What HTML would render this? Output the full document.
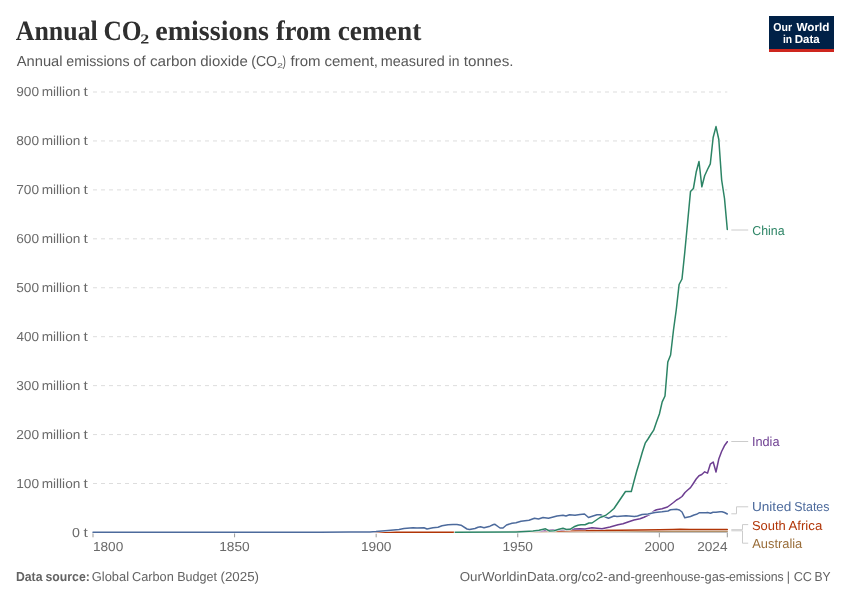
<!DOCTYPE html>
<html lang="en"><head><meta charset="utf-8"><title>Annual CO₂ emissions from cement</title>
<style>html,body{margin:0;padding:0;background:#fff;}svg{display:block;}text{font-family:"Liberation Sans", sans-serif;text-rendering:geometricPrecision;}text.sf{font-family:"Liberation Serif", serif;}</style>
</head><body>
<svg width="850" height="600" viewBox="0 0 850 600">
<rect width="850" height="600" fill="#fff"/>
<text y="40.1" font-size="28" fill="#2f2f2f" font-weight="bold" class="sf"><tspan x="15.75" textLength="82.01" lengthAdjust="spacingAndGlyphs">Annual</tspan> <tspan x="103.43" textLength="38.15" lengthAdjust="spacingAndGlyphs">CO</tspan><tspan x="140.39" textLength="9.0" lengthAdjust="spacingAndGlyphs" y="39" font-size="23">₂</tspan> <tspan x="155.23" textLength="113.78" lengthAdjust="spacingAndGlyphs" y="40.1">emissions</tspan> <tspan x="276.0" textLength="55.01" lengthAdjust="spacingAndGlyphs">from</tspan> <tspan x="337.74" textLength="83.51" lengthAdjust="spacingAndGlyphs">cement</tspan></text>
<text y="66" font-size="14.5" fill="#585858"><tspan x="16.74" textLength="45.78" lengthAdjust="spacingAndGlyphs">Annual</tspan> <tspan x="66.24" textLength="63.27" lengthAdjust="spacingAndGlyphs">emissions</tspan> <tspan x="133.22" textLength="12.29" lengthAdjust="spacingAndGlyphs">of</tspan> <tspan x="149.97" textLength="46.56" lengthAdjust="spacingAndGlyphs">carbon</tspan> <tspan x="200.23" textLength="47.54" lengthAdjust="spacingAndGlyphs">dioxide</tspan> <tspan x="251.19" textLength="25.87" lengthAdjust="spacingAndGlyphs">(CO</tspan><tspan x="276.75" textLength="6.49" lengthAdjust="spacingAndGlyphs" y="67" font-size="12.5">₂</tspan><tspan x="282.48" textLength="3.46" lengthAdjust="spacingAndGlyphs" y="66">)</tspan> <tspan x="290.49" textLength="30.06" lengthAdjust="spacingAndGlyphs">from</tspan> <tspan x="324.48" textLength="53.58" lengthAdjust="spacingAndGlyphs">cement,</tspan> <tspan x="380.72" textLength="64.06" lengthAdjust="spacingAndGlyphs">measured</tspan> <tspan x="448.57" textLength="10.87" lengthAdjust="spacingAndGlyphs">in</tspan> <tspan x="463.74" textLength="49.81" lengthAdjust="spacingAndGlyphs">tonnes.</tspan></text>
<rect x="769" y="16" width="65" height="36" fill="#002147"/>
<rect x="769" y="49" width="65" height="3" fill="#ce261e"/>
<text y="31" font-size="11.5" fill="#fff" font-weight="bold"><tspan x="773.23" textLength="18.77" lengthAdjust="spacingAndGlyphs">Our</tspan> <tspan x="796.5" textLength="33.03" lengthAdjust="spacingAndGlyphs">World</tspan></text>
<text y="43" font-size="11.5" fill="#fff" font-weight="bold"><tspan x="782.88" textLength="9.19" lengthAdjust="spacingAndGlyphs">in</tspan> <tspan x="794.72" textLength="25.03" lengthAdjust="spacingAndGlyphs">Data</tspan></text>
<line x1="93" x2="727.3" y1="92.0" y2="92.0" stroke="#ddd" stroke-width="1" stroke-dasharray="4,4"/>
<line x1="93" x2="727.3" y1="140.94" y2="140.94" stroke="#ddd" stroke-width="1" stroke-dasharray="4,4"/>
<line x1="93" x2="727.3" y1="189.88" y2="189.88" stroke="#ddd" stroke-width="1" stroke-dasharray="4,4"/>
<line x1="93" x2="727.3" y1="238.82" y2="238.82" stroke="#ddd" stroke-width="1" stroke-dasharray="4,4"/>
<line x1="93" x2="727.3" y1="287.75" y2="287.75" stroke="#ddd" stroke-width="1" stroke-dasharray="4,4"/>
<line x1="93" x2="727.3" y1="336.69" y2="336.69" stroke="#ddd" stroke-width="1" stroke-dasharray="4,4"/>
<line x1="93" x2="727.3" y1="385.63" y2="385.63" stroke="#ddd" stroke-width="1" stroke-dasharray="4,4"/>
<line x1="93" x2="727.3" y1="434.57" y2="434.57" stroke="#ddd" stroke-width="1" stroke-dasharray="4,4"/>
<line x1="93" x2="727.3" y1="483.5" y2="483.5" stroke="#ddd" stroke-width="1" stroke-dasharray="4,4"/>
<text y="96" font-size="13" fill="#6a6a6a"><tspan x="16.21" textLength="22.83" lengthAdjust="spacingAndGlyphs">900</tspan> <tspan x="41.71" textLength="38.59" lengthAdjust="spacingAndGlyphs">million</tspan> <tspan x="83.48" textLength="4.28" lengthAdjust="spacingAndGlyphs">t</tspan></text>
<text y="145" font-size="13" fill="#6a6a6a"><tspan x="16.21" textLength="22.83" lengthAdjust="spacingAndGlyphs">800</tspan> <tspan x="41.71" textLength="38.59" lengthAdjust="spacingAndGlyphs">million</tspan> <tspan x="83.48" textLength="4.28" lengthAdjust="spacingAndGlyphs">t</tspan></text>
<text y="194" font-size="13" fill="#6a6a6a"><tspan x="16.21" textLength="22.83" lengthAdjust="spacingAndGlyphs">700</tspan> <tspan x="41.71" textLength="38.59" lengthAdjust="spacingAndGlyphs">million</tspan> <tspan x="83.48" textLength="4.28" lengthAdjust="spacingAndGlyphs">t</tspan></text>
<text y="243" font-size="13" fill="#6a6a6a"><tspan x="16.21" textLength="22.83" lengthAdjust="spacingAndGlyphs">600</tspan> <tspan x="41.71" textLength="38.59" lengthAdjust="spacingAndGlyphs">million</tspan> <tspan x="83.48" textLength="4.28" lengthAdjust="spacingAndGlyphs">t</tspan></text>
<text y="292" font-size="13" fill="#6a6a6a"><tspan x="16.21" textLength="22.83" lengthAdjust="spacingAndGlyphs">500</tspan> <tspan x="41.71" textLength="38.59" lengthAdjust="spacingAndGlyphs">million</tspan> <tspan x="83.48" textLength="4.28" lengthAdjust="spacingAndGlyphs">t</tspan></text>
<text y="341" font-size="13" fill="#6a6a6a"><tspan x="16.49" textLength="22.54" lengthAdjust="spacingAndGlyphs">400</tspan> <tspan x="41.71" textLength="38.59" lengthAdjust="spacingAndGlyphs">million</tspan> <tspan x="83.48" textLength="4.28" lengthAdjust="spacingAndGlyphs">t</tspan></text>
<text y="390" font-size="13" fill="#6a6a6a"><tspan x="16.22" textLength="22.81" lengthAdjust="spacingAndGlyphs">300</tspan> <tspan x="41.71" textLength="38.59" lengthAdjust="spacingAndGlyphs">million</tspan> <tspan x="83.48" textLength="4.28" lengthAdjust="spacingAndGlyphs">t</tspan></text>
<text y="439" font-size="13" fill="#6a6a6a"><tspan x="16.21" textLength="22.83" lengthAdjust="spacingAndGlyphs">200</tspan> <tspan x="41.71" textLength="38.59" lengthAdjust="spacingAndGlyphs">million</tspan> <tspan x="83.48" textLength="4.28" lengthAdjust="spacingAndGlyphs">t</tspan></text>
<text y="488" font-size="13" fill="#6a6a6a"><tspan x="16.17" textLength="22.87" lengthAdjust="spacingAndGlyphs">100</tspan> <tspan x="41.71" textLength="38.59" lengthAdjust="spacingAndGlyphs">million</tspan> <tspan x="83.48" textLength="4.28" lengthAdjust="spacingAndGlyphs">t</tspan></text>
<text y="537" font-size="13" fill="#6a6a6a"><tspan x="71.92" textLength="7.93" lengthAdjust="spacingAndGlyphs">0</tspan> <tspan x="83.48" textLength="4.28" lengthAdjust="spacingAndGlyphs">t</tspan></text>
<line x1="93" x2="727.3" y1="532.3" y2="532.3" stroke="#999" stroke-width="1"/>
<line x1="93.0" x2="93.0" y1="532.3" y2="537.3" stroke="#999" stroke-width="1"/>
<line x1="234.58" x2="234.58" y1="532.3" y2="537.3" stroke="#999" stroke-width="1"/>
<line x1="376.17" x2="376.17" y1="532.3" y2="537.3" stroke="#999" stroke-width="1"/>
<line x1="517.75" x2="517.75" y1="532.3" y2="537.3" stroke="#999" stroke-width="1"/>
<line x1="659.34" x2="659.34" y1="532.3" y2="537.3" stroke="#999" stroke-width="1"/>
<line x1="727.3" x2="727.3" y1="532.3" y2="537.3" stroke="#999" stroke-width="1"/>
<text y="551" font-size="13" fill="#6a6a6a"><tspan x="92.94" textLength="30.33" lengthAdjust="spacingAndGlyphs">1800</tspan></text>
<text y="551" font-size="13" fill="#6a6a6a"><tspan x="219.2" textLength="30.58" lengthAdjust="spacingAndGlyphs">1850</tspan></text>
<text y="551" font-size="13" fill="#6a6a6a"><tspan x="360.95" textLength="30.58" lengthAdjust="spacingAndGlyphs">1900</tspan></text>
<text y="551" font-size="13" fill="#6a6a6a"><tspan x="502.45" textLength="30.58" lengthAdjust="spacingAndGlyphs">1950</tspan></text>
<text y="551" font-size="13" fill="#6a6a6a"><tspan x="644.47" textLength="30.05" lengthAdjust="spacingAndGlyphs">2000</tspan></text>
<text y="551" font-size="13" fill="#6a6a6a"><tspan x="697.22" textLength="30.3" lengthAdjust="spacingAndGlyphs">2024</tspan></text>
<path d="M331.00,532.30 L480.00,532.20 L520.00,531.90 L560.00,531.50 L600.00,531.30 L660.00,531.00 L727.30,531.00" fill="none" stroke="#fff" stroke-width="2.5" stroke-linejoin="round" stroke-linecap="round"/>
<path d="M331.00,532.30 L480.00,532.20 L520.00,531.90 L560.00,531.50 L600.00,531.30 L660.00,531.00 L727.30,531.00" fill="none" stroke="#996d39" stroke-width="1.5" stroke-linejoin="round" stroke-linecap="round"/>
<path d="M331.00,532.30 L475.00,532.20 L520.00,531.60 L550.00,531.20 L580.00,530.50 L620.00,530.30 L660.00,529.80 L673.00,529.50 L680.00,529.30 L690.00,529.60 L705.00,529.50 L727.30,529.60" fill="none" stroke="#fff" stroke-width="2.5" stroke-linejoin="round" stroke-linecap="round"/>
<path d="M331.00,532.30 L475.00,532.20 L520.00,531.60 L550.00,531.20 L580.00,530.50 L620.00,530.30 L660.00,529.80 L673.00,529.50 L680.00,529.30 L690.00,529.60 L705.00,529.50 L727.30,529.60" fill="none" stroke="#b13507" stroke-width="1.5" stroke-linejoin="round" stroke-linecap="round"/>
<path d="M455.00,532.30 L517.00,531.80 L530.00,531.30 L545.00,530.60 L553.00,530.00 L560.00,529.70 L570.00,529.30 L580.00,528.70 L585.00,529.00 L592.00,527.80 L602.00,528.70 L610.00,527.00 L618.00,524.80 L623.00,523.80 L628.00,522.00 L634.00,520.00 L640.00,518.80 L644.00,517.20 L649.00,514.80 L654.00,511.00 L656.50,509.80 L662.00,508.80 L667.50,507.00 L673.50,502.50 L676.50,500.00 L679.00,498.70 L682.00,496.50 L685.00,492.50 L687.70,490.00 L690.50,487.70 L693.30,483.50 L696.20,479.00 L699.00,475.70 L701.80,474.50 L704.70,471.80 L707.50,473.20 L710.30,464.20 L713.20,462.00 L716.00,472.00 L718.80,459.00 L721.60,451.50 L724.40,445.80 L727.30,441.70" fill="none" stroke="#fff" stroke-width="2.5" stroke-linejoin="round" stroke-linecap="round"/>
<path d="M455.00,532.30 L517.00,531.80 L530.00,531.30 L545.00,530.60 L553.00,530.00 L560.00,529.70 L570.00,529.30 L580.00,528.70 L585.00,529.00 L592.00,527.80 L602.00,528.70 L610.00,527.00 L618.00,524.80 L623.00,523.80 L628.00,522.00 L634.00,520.00 L640.00,518.80 L644.00,517.20 L649.00,514.80 L654.00,511.00 L656.50,509.80 L662.00,508.80 L667.50,507.00 L673.50,502.50 L676.50,500.00 L679.00,498.70 L682.00,496.50 L685.00,492.50 L687.70,490.00 L690.50,487.70 L693.30,483.50 L696.20,479.00 L699.00,475.70 L701.80,474.50 L704.70,471.80 L707.50,473.20 L710.30,464.20 L713.20,462.00 L716.00,472.00 L718.80,459.00 L721.60,451.50 L724.40,445.80 L727.30,441.70" fill="none" stroke="#6d3e91" stroke-width="1.5" stroke-linejoin="round" stroke-linecap="round"/>
<path d="M93.00,532.30 L320.00,532.30 L350.00,532.10 L370.00,531.90 L376.00,531.60 L388.00,530.50 L399.00,529.50 L404.00,528.50 L413.00,527.80 L417.00,528.10 L424.00,527.70 L427.00,529.00 L433.00,527.80 L438.00,527.20 L442.00,525.80 L448.00,524.80 L453.00,524.60 L457.00,524.60 L461.00,525.20 L467.00,529.00 L469.50,529.50 L475.00,528.50 L478.00,527.20 L480.50,526.80 L484.00,527.80 L490.00,526.20 L493.50,524.50 L495.00,524.30 L500.00,528.00 L503.00,528.00 L506.50,525.00 L512.00,523.20 L516.00,522.70 L521.00,521.20 L529.00,520.30 L534.50,518.20 L538.50,519.00 L543.00,517.50 L548.50,518.30 L557.00,516.00 L563.00,515.20 L566.00,516.00 L569.50,514.70 L575.00,515.20 L580.00,514.40 L584.50,514.00 L588.50,517.50 L593.00,516.00 L597.00,514.80 L600.50,514.80 L603.50,516.20 L608.50,518.20 L614.00,516.00 L617.00,516.60 L626.00,515.70 L634.50,516.40 L637.50,516.00 L642.00,514.50 L648.00,514.00 L655.00,512.50 L662.00,511.80 L668.00,511.00 L670.50,509.80 L676.50,509.30 L679.50,510.00 L682.00,512.00 L684.80,517.80 L690.50,516.50 L694.00,515.00 L696.50,514.30 L699.50,512.70 L706.00,512.80 L707.50,512.50 L710.50,513.30 L713.00,512.20 L716.00,512.20 L720.00,511.70 L722.00,511.80 L724.50,512.50 L727.30,514.00" fill="none" stroke="#fff" stroke-width="2.5" stroke-linejoin="round" stroke-linecap="round"/>
<path d="M93.00,532.30 L320.00,532.30 L350.00,532.10 L370.00,531.90 L376.00,531.60 L388.00,530.50 L399.00,529.50 L404.00,528.50 L413.00,527.80 L417.00,528.10 L424.00,527.70 L427.00,529.00 L433.00,527.80 L438.00,527.20 L442.00,525.80 L448.00,524.80 L453.00,524.60 L457.00,524.60 L461.00,525.20 L467.00,529.00 L469.50,529.50 L475.00,528.50 L478.00,527.20 L480.50,526.80 L484.00,527.80 L490.00,526.20 L493.50,524.50 L495.00,524.30 L500.00,528.00 L503.00,528.00 L506.50,525.00 L512.00,523.20 L516.00,522.70 L521.00,521.20 L529.00,520.30 L534.50,518.20 L538.50,519.00 L543.00,517.50 L548.50,518.30 L557.00,516.00 L563.00,515.20 L566.00,516.00 L569.50,514.70 L575.00,515.20 L580.00,514.40 L584.50,514.00 L588.50,517.50 L593.00,516.00 L597.00,514.80 L600.50,514.80 L603.50,516.20 L608.50,518.20 L614.00,516.00 L617.00,516.60 L626.00,515.70 L634.50,516.40 L637.50,516.00 L642.00,514.50 L648.00,514.00 L655.00,512.50 L662.00,511.80 L668.00,511.00 L670.50,509.80 L676.50,509.30 L679.50,510.00 L682.00,512.00 L684.80,517.80 L690.50,516.50 L694.00,515.00 L696.50,514.30 L699.50,512.70 L706.00,512.80 L707.50,512.50 L710.50,513.30 L713.00,512.20 L716.00,512.20 L720.00,511.70 L722.00,511.80 L724.50,512.50 L727.30,514.00" fill="none" stroke="#4c6a9c" stroke-width="1.5" stroke-linejoin="round" stroke-linecap="round"/>
<path d="M455.20,532.30 L510.00,532.00 L516.00,532.00 L521.00,531.70 L533.00,531.00 L539.00,530.30 L545.50,528.80 L549.50,531.00 L554.00,530.70 L559.00,529.20 L563.00,528.30 L566.50,529.50 L570.00,529.30 L574.00,526.80 L578.00,525.20 L581.00,524.70 L585.00,524.80 L589.00,523.00 L592.00,523.00 L600.00,517.50 L605.50,515.50 L610.00,512.00 L614.00,508.50 L625.50,491.50 L631.30,491.50 L633.80,482.00 L636.70,471.30 L639.50,462.00 L642.30,452.20 L645.20,443.20 L648.00,439.00 L650.80,434.50 L653.70,430.20 L656.50,422.00 L659.40,414.00 L662.20,401.80 L665.00,396.00 L667.80,362.00 L670.60,355.00 L673.50,330.00 L676.30,309.50 L679.10,284.50 L682.00,279.00 L684.80,252.00 L687.65,222.00 L690.50,191.50 L693.40,188.50 L696.15,172.30 L699.00,161.50 L701.85,186.80 L704.65,175.80 L707.50,169.50 L710.30,163.80 L713.15,137.50 L716.00,126.60 L718.80,139.50 L721.65,180.00 L724.50,198.50 L727.30,229.50" fill="none" stroke="#fff" stroke-width="2.5" stroke-linejoin="round" stroke-linecap="round"/>
<path d="M455.20,532.30 L510.00,532.00 L516.00,532.00 L521.00,531.70 L533.00,531.00 L539.00,530.30 L545.50,528.80 L549.50,531.00 L554.00,530.70 L559.00,529.20 L563.00,528.30 L566.50,529.50 L570.00,529.30 L574.00,526.80 L578.00,525.20 L581.00,524.70 L585.00,524.80 L589.00,523.00 L592.00,523.00 L600.00,517.50 L605.50,515.50 L610.00,512.00 L614.00,508.50 L625.50,491.50 L631.30,491.50 L633.80,482.00 L636.70,471.30 L639.50,462.00 L642.30,452.20 L645.20,443.20 L648.00,439.00 L650.80,434.50 L653.70,430.20 L656.50,422.00 L659.40,414.00 L662.20,401.80 L665.00,396.00 L667.80,362.00 L670.60,355.00 L673.50,330.00 L676.30,309.50 L679.10,284.50 L682.00,279.00 L684.80,252.00 L687.65,222.00 L690.50,191.50 L693.40,188.50 L696.15,172.30 L699.00,161.50 L701.85,186.80 L704.65,175.80 L707.50,169.50 L710.30,163.80 L713.15,137.50 L716.00,126.60 L718.80,139.50 L721.65,180.00 L724.50,198.50 L727.30,229.50" fill="none" stroke="#2c8465" stroke-width="1.5" stroke-linejoin="round" stroke-linecap="round"/>
<path d="M731.3,230 L748.2,230" fill="none" stroke="#ccc" stroke-width="1"/>
<path d="M731.3,441.5 L748.2,441.5" fill="none" stroke="#ccc" stroke-width="1"/>
<path d="M731.3,513.8 L736.5,513.8 L736.5,506.8 L748.2,506.8" fill="none" stroke="#ccc" stroke-width="1"/>
<path d="M731.3,529.7 L742.5,529.7 L742.5,524.6 L748.2,524.6" fill="none" stroke="#ccc" stroke-width="1"/>
<path d="M731.3,530.8 L742.5,530.8 L742.5,543.2 L748.2,543.2" fill="none" stroke="#ccc" stroke-width="1"/>
<text y="235" font-size="13" fill="#2c8465"><tspan x="752.24" textLength="32.26" lengthAdjust="spacingAndGlyphs">China</tspan></text>
<text y="446" font-size="13" fill="#6d3e91"><tspan x="751.95" textLength="27.55" lengthAdjust="spacingAndGlyphs">India</tspan></text>
<text y="511" font-size="13" fill="#4c6a9c"><tspan x="751.94" textLength="39.35" lengthAdjust="spacingAndGlyphs">United</tspan> <tspan x="794.23" textLength="35.29" lengthAdjust="spacingAndGlyphs">States</tspan></text>
<text y="530" font-size="13" fill="#b13507"><tspan x="751.97" textLength="33.81" lengthAdjust="spacingAndGlyphs">South</tspan> <tspan x="788.5" textLength="33.75" lengthAdjust="spacingAndGlyphs">Africa</tspan></text>
<text y="548" font-size="13" fill="#996d39"><tspan x="752.25" textLength="50.0" lengthAdjust="spacingAndGlyphs">Australia</tspan></text>
<g>
<text y="581" font-size="13" fill="#636363" font-weight="bold"><tspan x="15.98" textLength="26.52" lengthAdjust="spacingAndGlyphs">Data</tspan> <tspan x="45.48" textLength="44.33" lengthAdjust="spacingAndGlyphs">source:</tspan></text>
<text y="581" font-size="13" fill="#636363"><tspan x="91.72" textLength="37.32" lengthAdjust="spacingAndGlyphs">Global</tspan> <tspan x="131.97" textLength="41.81" lengthAdjust="spacingAndGlyphs">Carbon</tspan> <tspan x="177.22" textLength="39.79" lengthAdjust="spacingAndGlyphs">Budget</tspan> <tspan x="220.47" textLength="38.58" lengthAdjust="spacingAndGlyphs">(2025)</tspan></text>
</g>
<text y="581" font-size="13" fill="#636363"><tspan x="459.74" textLength="118.28" lengthAdjust="spacingAndGlyphs">OurWorldinData.org</tspan><tspan x="577.75" textLength="57.26" lengthAdjust="spacingAndGlyphs">/co2-and-</tspan><tspan x="634.74" textLength="65.77" lengthAdjust="spacingAndGlyphs">greenhouse</tspan><tspan x="700.22" textLength="29.31" lengthAdjust="spacingAndGlyphs">-gas-</tspan><tspan x="728.99" textLength="54.77" lengthAdjust="spacingAndGlyphs">emissions</tspan> <tspan x="786.65" textLength="3.2" lengthAdjust="spacingAndGlyphs">|</tspan> <tspan x="793.7" textLength="18.33" lengthAdjust="spacingAndGlyphs">CC</tspan> <tspan x="814.4" textLength="16.12" lengthAdjust="spacingAndGlyphs">BY</tspan></text>
</svg>
</body></html>
